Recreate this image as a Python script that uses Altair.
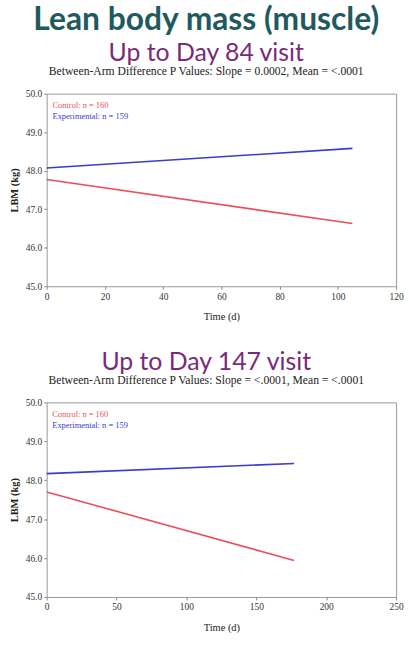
import altair as alt
import pandas as pd

# Data
top_days = [0, 105]
top_control = [47.77, 46.63]
top_experimental = [48.07, 48.58]

bottom_days = [0, 177]
bottom_control = [47.70, 45.94]
bottom_experimental = [48.17, 48.43]

legend_labels = ["Control: n = 160", "Experimental: n = 159"]
series = ["Control", "Experimental"]
colors = ["#e8505a", "#3b3bd0"]

main_title = "Lean body mass (muscle)"
panel_titles = ["Up to Day 84 visit", "Up to Day 147 visit"]
panel_subtitles = [
    "Between-Arm Difference P Values: Slope = 0.0002, Mean = <.0001",
    "Between-Arm Difference P Values: Slope = <.0001, Mean = <.0001",
]
x_ticks = [[0, 20, 40, 60, 80, 100, 120], [0, 50, 100, 150, 200, 250]]
y_ticks = [45, 46, 47, 48, 49, 50]

SERIF = "Liberation Serif"


def panel(days, ctrl, expt, xt, title, subtitle, legend_x, w, h):
    rows = []
    for d, c, e in zip(days, ctrl, expt):
        rows.append({"day": d, "lbm": c, "arm": "Control"})
        rows.append({"day": d, "lbm": e, "arm": "Experimental"})
    df = pd.DataFrame(rows)
    color = alt.Color("arm:N", scale=alt.Scale(domain=series, range=colors), legend=None)
    xs = alt.Scale(domain=[xt[0], xt[-1]], nice=False)
    ys = alt.Scale(domain=[45, 50], nice=False)
    common = dict(grid=False, domain=False, tickColor="#888888", tickSize=3,
                  labelFont=SERIF, labelFontSize=9.5, labelColor="#333333",
                  labelOverlap=False, labelFlush=False, labelPadding=2,
                  titleFont=SERIF, titleFontSize=10.5, titleColor="#222222")
    x_axis = alt.Axis(values=xt, format="d", titleFontWeight="normal",
                      titlePadding=11, **common)
    y_axis = alt.Axis(values=y_ticks, format=".1f", titleFontWeight="bold",
                      titlePadding=6, **common)
    lines = alt.Chart(df).mark_line(strokeWidth=1.6).encode(
        x=alt.X("day:Q", scale=xs, title="Time (d)", axis=x_axis),
        y=alt.Y("lbm:Q", scale=ys, title="LBM (kg)", axis=y_axis),
        color=color,
    )
    leg = pd.DataFrame({"day": [legend_x, legend_x], "lbm": [49.7, 49.42],
                        "label": legend_labels, "arm": series})
    text = alt.Chart(leg).mark_text(align="left", baseline="middle", font=SERIF,
                                    fontSize=8.5).encode(
        x=alt.X("day:Q", scale=xs, title="Time (d)", axis=x_axis),
        y=alt.Y("lbm:Q", scale=ys, title="LBM (kg)", axis=y_axis),
        text="label:N", color=color,
    )
    return alt.layer(lines, text).properties(
        width=w, height=h,
        title=alt.TitleParams(
            text=title, subtitle=subtitle, anchor="middle", frame="bounds",
            font="Lato", fontSize=25, fontWeight="normal", color="#7a2a78",
            subtitleFont=SERIF, subtitleFontSize=11.7, subtitleColor="#222222",
            subtitlePadding=0, offset=11,
        ),
    )


top = panel(top_days, top_control, top_experimental, x_ticks[0], panel_titles[0],
            panel_subtitles[0], 2, 352, 194)
bottom = panel(bottom_days, bottom_control, bottom_experimental, x_ticks[1], panel_titles[1],
               panel_subtitles[1], 4, 352, 196)

chart = alt.vconcat(top, bottom, spacing=26).properties(
    title=alt.TitleParams(text=main_title, anchor="middle", font="Lato", fontSize=32,
                          fontWeight="bold", color="#1f5a60", offset=4),
    padding={"left": 8, "right": 5, "top": 1, "bottom": 5},
).configure(background="white").configure_view(stroke="#999999", strokeWidth=1)

chart.save("out.html", embed_options={"renderer": "svg", "actions": False})
